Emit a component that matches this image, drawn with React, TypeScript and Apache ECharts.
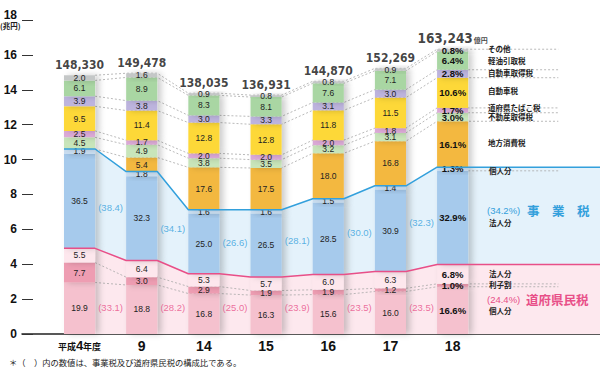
import React, { useEffect, useRef } from "react";
import * as echarts from "echarts";

// ---- data ----
const years = ["平成4年度", "9", "14", "15", "16", "17", "18"];
const totals = [148330, 149478, 138035, 136931, 144870, 152269, 163243]; // 億円

// composition ratios (%), stacked bottom -> top
const kenminIndividual = [19.9, 18.8, 16.8, 16.3, 15.6, 16.0, 16.6];
const kenminInterest = [7.7, 3.0, 2.9, 1.9, 1.9, 1.2, 1.0];
const kenminCorporate = [5.5, 6.4, 5.3, 5.7, 6.0, 6.3, 6.8];
const jigyoCorporate = [36.5, 32.3, 25.0, 26.5, 28.5, 30.9, 32.9];
const jigyoIndividual = [1.9, 1.8, 1.6, 1.6, 1.5, 1.4, 1.3];
const localConsumption = [0, 5.4, 17.6, 17.5, 18.0, 16.8, 16.1];
const realEstate = [4.5, 4.9, 3.8, 3.5, 3.2, 3.1, 3.0];
const tobacco = [2.5, 1.7, 2.0, 2.0, 2.0, 1.8, 1.7];
const autoTax = [9.5, 11.4, 12.8, 12.8, 11.8, 11.5, 10.6];
const autoAcq = [3.9, 3.8, 3.0, 3.3, 3.1, 3.0, 2.8];
const lightOil = [6.1, 8.9, 8.3, 8.1, 7.6, 7.1, 6.4];
const others = [2.0, 1.6, 0.9, 0.8, 0.8, 0.9, 0.8];

const kenminShare = [33.1, 28.2, 25.0, 23.9, 23.5, 23.5, 24.4];
const jigyoShare = [38.4, 34.1, 26.6, 28.1, 30.0, 32.3, 34.2];

const yTickValues = [0, 2, 4, 6, 8, 10, 12, 14, 16, 18];

// ---- style constants ----
const NUM_FONT = "'Liberation Sans Narrow','DejaVu Sans Condensed','Liberation Sans',Arial,sans-serif";
const SANS = "'Liberation Sans',Arial,sans-serif";
const JP = "'Noto Sans CJK JP','Noto Sans',sans-serif";
const GRID_LEFT = 22;
const GRID_TOP = 20;
const GRID_BOTTOM = 57;
const WIDTH = 600;
const X_MIN = -0.925;
const X_MAX = 8.37;
const HALF = 0.25;
const X_EXT = 7.7;
const BLUE = "#33a0dc";
const PINK = "#e84f88";

const layers = [
  { name: "道府県民税 個人分", data: kenminIndividual, color: "#f5c1ce" },
  { name: "利子割", data: kenminInterest, color: "#ee9db2" },
  { name: "道府県民税 法人分", data: kenminCorporate, color: "#fde7ed" },
  { name: "事業税 法人分", data: jigyoCorporate, color: "#a6caec" },
  { name: "事業税 個人分", data: jigyoIndividual, color: "#cadef1" },
  { name: "地方消費税", data: localConsumption, color: "#f3b840" },
  { name: "不動産取得税", data: realEstate, color: "#c8e5ba" },
  { name: "道府県たばこ税", data: tobacco, color: "#dcaad7" },
  { name: "自動車税", data: autoTax, color: "#fdd838" },
  { name: "自動車取得税", data: autoAcq, color: "#bdb4de" },
  { name: "軽油引取税", data: lightOil, color: "#a9d6a3" },
  { name: "その他", data: others, color: "#c4c7c7" },
];

function buildOption() {
  const n = years.length;
  const heights = layers.map((L) => L.data.map((p, i) => (p * totals[i]) / 1e6));
  const cum: number[][] = [];
  heights.forEach((h, k) => {
    cum.push(h.map((v, i) => v + (k > 0 ? cum[k - 1][i] : 0)));
  });
  const pinkTop = cum[2];
  const blueTop = cum[4];

  // the bar grid is aligned with the value x axis of the main grid
  const pxPerUnit = (WIDTH - GRID_LEFT) / (X_MAX - X_MIN);
  const barLeft = GRID_LEFT + (-0.5 - X_MIN) * pxPerUnit;
  const barRight = WIDTH - (barLeft + n * pxPerUnit);

  const edgeX: number[] = [];
  for (let i = 0; i < n; i++) edgeX.push(i - HALF, i + HALF);
  edgeX.push(X_MAX);
  const edgeVals = (arr: number[]) => [...arr.flatMap((v) => [v, v]), arr[n - 1]];
  const pv = edgeVals(pinkTop);
  const bv = edgeVals(blueTop);

  const series: any[] = [];

  // background bands
  series.push({
    type: "line", silent: true, z: 1, symbol: "none",
    data: edgeX.map((x, j) => [x, bv[j]]),
    lineStyle: { opacity: 0 }, areaStyle: { color: "#e4f2fb", opacity: 1 },
  });
  series.push({
    type: "line", silent: true, z: 1.5, symbol: "none",
    data: edgeX.map((x, j) => [x, pv[j]]),
    lineStyle: { opacity: 0 }, areaStyle: { color: "#fde8ee", opacity: 1 },
  });

  // dotted connectors
  const gapBoundaries = [0, 1, 5, 6, 7, 8, 9, 10, 11];
  const extBoundaries = [0, 1, 3, 5, 6, 7, 8, 9, 11];
  const dotted = { color: "#a8a8a8", width: 0.8, type: [2, 2] };
  gapBoundaries.forEach((k) => {
    const pts: any[] = [[0 + HALF, cum[k][0]]];
    for (let i = 1; i < n; i++) pts.push([i - HALF, cum[k][i]], [i + HALF, cum[k][i]]);
    if (extBoundaries.includes(k)) pts.push([X_EXT, cum[k][n - 1]]);
    series.push({ type: "line", silent: true, z: 2, symbol: "none", data: pts, lineStyle: dotted });
  });
  extBoundaries.filter((k) => !gapBoundaries.includes(k)).forEach((k) => {
    series.push({
      type: "line", silent: true, z: 2, symbol: "none",
      data: [[n - 1 + HALF, cum[k][n - 1]], [X_EXT, cum[k][n - 1]]], lineStyle: dotted,
    });
  });

  // stacked bars (category grid)
  layers.forEach((L, k) => {
    series.push({
      type: "bar", name: L.name, stack: "total", barWidth: "50%", z: 3,
      xAxisIndex: 1, yAxisIndex: 1,
      data: heights[k],
      itemStyle: { color: L.color, shadowColor: "rgba(0,0,0,0.2)", shadowBlur: 6, shadowOffsetX: 4 },
      emphasis: { disabled: true },
      label: {
        show: true, position: "inside", color: "#222", fontSize: 8.5, fontFamily: SANS,
        textBorderWidth: 0,
        formatter: (p: any) => {
          const v = L.data[p.dataIndex];
          if (!v) return "";
          return p.dataIndex === n - 1 ? `{b|${v.toFixed(1)}%}` : v.toFixed(1);
        },
        rich: { b: { fontSize: 9.5, fontWeight: "bold", color: "#111", fontFamily: SANS } },
      },
    });
  });

  // solid group lines
  series.push({
    type: "line", silent: true, z: 4, symbol: "none",
    data: edgeX.map((x, j) => [x, pv[j]]), lineStyle: { color: PINK, width: 1.5 },
  });
  series.push({
    type: "line", silent: true, z: 4, symbol: "none",
    data: edgeX.map((x, j) => [x, bv[j]]), lineStyle: { color: BLUE, width: 1.5 },
  });

  // share labels in the gaps
  const gapIdx = [0, 1, 2, 3, 4, 5];
  series.push({
    type: "scatter", silent: true, z: 5, symbolSize: 0,
    data: gapIdx.map((i) => [
      i + 0.5,
      ((pinkTop[i] + pinkTop[i + 1]) / 2 + (blueTop[i] + blueTop[i + 1]) / 2) / 2,
    ]),
    label: {
      show: true, position: "inside", color: BLUE, fontSize: 9.5, fontFamily: SANS,
      formatter: (p: any) => `(${jigyoShare[p.dataIndex].toFixed(1)})`,
    },
  });
  series.push({
    type: "scatter", silent: true, z: 5, symbolSize: 0,
    data: gapIdx.map((i) => [i + 0.5, 1.52]),
    label: {
      show: true, position: "inside", color: PINK, fontSize: 9.5, fontFamily: SANS,
      formatter: (p: any) => `(${kenminShare[p.dataIndex].toFixed(1)})`,
    },
  });

  // totals on top
  series.push({
    type: "scatter", silent: true, z: 5, symbolSize: 0,
    data: totals.map((t, i) => [i, t / 1e4]),
    label: {
      show: true, position: "top", distance: 4,
      formatter: (p: any) => {
        const s = totals[p.dataIndex].toLocaleString("en-US");
        return p.dataIndex === n - 1 ? `{big|${s}}{u|億円}` : `{n|${s}}`;
      },
      rich: {
        n: { fontSize: 12, fontWeight: "bold", color: "#111", fontFamily: NUM_FONT },
        big: { fontSize: 13.5, fontWeight: "bold", color: "#111", fontFamily: NUM_FONT },
        u: { fontSize: 7, fontWeight: "bold", color: "#111", fontFamily: JP, padding: [3, 0, 0, 1] },
      },
    },
  });

  const txt = (x: number, y: number, text: string, o: any = {}) => ({
    type: "text", x, y, silent: true, z: 100,
    style: {
      text, fontSize: 7.5, fontFamily: JP, fill: "#222", fontWeight: "bold",
      align: "left", verticalAlign: "middle", ...o,
    },
  });

  const graphic = [
    txt(0, 25, "(兆円)", { fontSize: 7.5 }),
    txt(488, 48, "その他"),
    txt(488, 60, "軽油引取税"),
    txt(488, 72, "自動車取得税"),
    txt(488, 90, "自動車税"),
    txt(488, 107, "道府県たばこ税"),
    txt(488, 116, "不動産取得税"),
    txt(488, 142, "地方消費税"),
    txt(489, 170, "個人分"),
    txt(487, 210, `(${jigyoShare[n - 1].toFixed(1)}%)`, { fill: BLUE, fontSize: 9.5, fontFamily: SANS, fontWeight: "normal" }),
    txt(527, 210, "事　業　税", { fill: BLUE, fontSize: 12.5 }),
    txt(489, 222, "法人分"),
    txt(489, 273, "法人分"),
    txt(489, 284, "利子割"),
    txt(487, 299, `(${kenminShare[n - 1].toFixed(1)}%)`, { fill: PINK, fontSize: 9.5, fontFamily: SANS, fontWeight: "normal" }),
    txt(526, 299, "道府県民税", { fill: PINK, fontSize: 12.5 }),
    txt(489, 310, "個人分"),
    txt(9, 362, "＊（　）内の数値は、事業税及び道府県民税の構成比である。", { fontSize: 8.3, fontWeight: "normal", fill: "#222" }),
  ];

  return {
    animation: false,
    backgroundColor: "#ffffff",
    grid: [
      { left: GRID_LEFT, right: 0, top: GRID_TOP, bottom: GRID_BOTTOM, containLabel: false, outerBoundsMode: "none" },
      { left: barLeft, right: barRight, top: GRID_TOP, bottom: GRID_BOTTOM, containLabel: false, outerBoundsMode: "none" },
    ],
    xAxis: [
      {
        type: "value", gridIndex: 0, min: X_MIN, max: X_MAX,
        axisLine: { show: true, onZero: false, lineStyle: { color: "#222", width: 1.5 } },
        axisTick: { show: false },
        splitLine: { show: false },
        axisLabel: {
          customValues: years.map((_, i) => i),
          margin: 5,
          formatter: (v: number) => {
            const i = Math.round(v);
            if (i === 0) return "{s|平成}{b|4}{s|年度}";
            return `{y|${years[i]}}`;
          },
          rich: {
            s: { fontSize: 9, fontWeight: "bold", color: "#111", fontFamily: JP, padding: [2, 0, 0, 0] },
            b: { fontSize: 13, fontWeight: "bold", color: "#111", fontFamily: SANS },
            y: { fontSize: 14, fontWeight: "bold", color: "#111", fontFamily: SANS },
          },
        },
      },
      {
        type: "category", gridIndex: 1, data: years, show: false,
      },
    ],
    yAxis: [
      {
        type: "value", gridIndex: 0, min: 0, max: 18, interval: 2,
        axisLine: { show: false, onZero: false },
        axisTick: { show: true, inside: true, length: 11, lineStyle: { color: "#333", width: 1 } },
        splitLine: { show: false },
        axisLabel: {
          margin: 5, fontSize: 12, fontWeight: "bold", color: "#111", fontFamily: SANS,
          formatter: (v: number) => (v === 18 ? "{t|18}" : yTickValues.includes(v) ? String(v) : ""),
          rich: { t: { fontSize: 12, fontWeight: "bold", color: "#111", fontFamily: SANS, padding: [0, 0, 10, 0] } },
        },
      },
      {
        type: "value", gridIndex: 1, min: 0, max: 18, interval: 2, show: false,
        axisLine: { show: false, onZero: false },
        splitLine: { show: false },
      },
    ],
    graphic,
    series,
  };
}

export default function App() {
  const ref = useRef<HTMLDivElement>(null);
  useEffect(() => {
    if (!ref.current) return;
    const chart = echarts.init(ref.current, null, { renderer: "svg" });
    chart.setOption(buildOption() as any);
    return () => chart.dispose();
  }, []);
  return <div ref={ref} style={{ position: "absolute", left: 0, top: 0, width: 600, height: 391 }} />;
}
